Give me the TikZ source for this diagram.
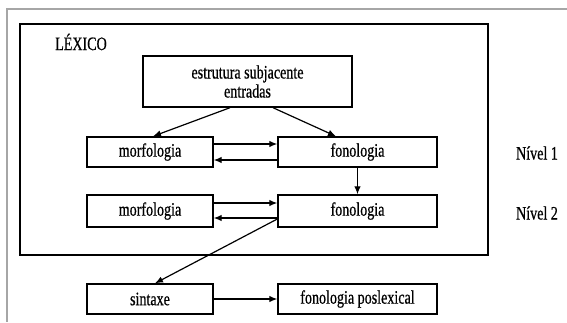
\documentclass[tikz,border=0pt]{standalone}
\usepackage{fontspec}
\setmainfont[FakeStretch=0.74, FakeBold=0.6]{Liberation Serif}
\usepackage{tikz}
\usetikzlibrary{arrows.meta, positioning, calc}

\tikzset{
  boxnode/.style={draw=black, line width=1.4pt, inner sep=0pt, align=center},
  arr/.style={line width=1.2pt, -{Latex[length=8pt,width=6.5pt]}},
  txt/.style={font=\fontsize{19}{19}\selectfont}
}

\begin{document}
\begin{tikzpicture}[x=1pt, y=-1pt, every node/.style={txt}]
  \useasboundingbox (0,0) rectangle (567,322);
  % page frame (cut by the picture edge)
  \draw[gray!70, line width=1.2pt] (567,9) -- (7,9) -- (7,322);
  % lexicon frame
  \draw[line width=1.6pt] (20,24) rectangle (488,255);
  \node (lex) at (81,42) {LÉXICO};
  % boxes
  \node[boxnode, minimum width=209pt, minimum height=51pt] (estr) at (247.5,81.5)
    {estrutura subjacente\\entradas};
  \node[boxnode, minimum width=126pt, minimum height=30pt] (morf1) at (150,152) {morfologia};
  \node[boxnode, minimum width=159pt, minimum height=30pt] (fon1) at (357.5,152) {fonologia};
  \node[boxnode, minimum width=126pt, minimum height=32pt] (morf2) at (150,211) {morfologia};
  \node[boxnode, minimum width=159pt, minimum height=32pt] (fon2) at (357.5,211) {fonologia};
  \node[boxnode, minimum width=126pt, minimum height=30pt] (sint) at (150,299) {sintaxe};
  \node[boxnode, minimum width=159pt, minimum height=30pt] (poslex) at (357.5,299) {fonologia poslexical};
  % level labels
  \foreach \n/\y in {1/153, 2/213} {
    \node (niv\n) at (537,\y) {Nível \n};
  }
  % arrows
  \draw[arr] ([xshift=-17.5pt]estr.south) -- ([xshift=3pt]morf1.north);
  \draw[arr] ([xshift=25.5pt]estr.south) -- ([xshift=-21.5pt]fon1.north);
  \draw[arr] ([yshift=8pt]morf1.east) -- ([yshift=8pt]fon1.west);
  \draw[arr] ([yshift=-8pt]fon1.west) -- ([yshift=-8pt]morf1.east);
  \draw[arr] (fon1.south) -- (fon2.north);
  \draw[arr] ([yshift=8pt]morf2.east) -- ([yshift=8pt]fon2.west);
  \draw[arr] ([yshift=-7pt]fon2.west) -- ([yshift=-7pt]morf2.east);
  \draw[arr] ([yshift=-8pt]fon2.west) -- ([xshift=5pt]sint.north);
  \draw[arr] (sint.east) -- (poslex.west);
\end{tikzpicture}
\end{document}
